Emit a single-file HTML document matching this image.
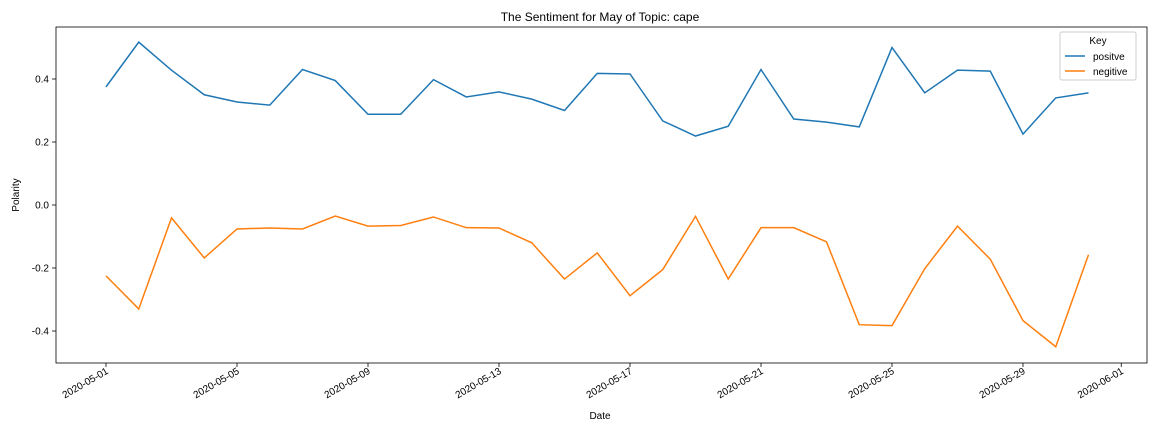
<!DOCTYPE html>
<html><head><meta charset="utf-8"><style>
body{margin:0;background:#fff;font-family:"Liberation Sans","DejaVu Sans",sans-serif;}
svg text{font-family:"Liberation Sans","DejaVu Sans",sans-serif;}
</style></head><body>
<svg id="chart" width="1152" height="432" xmlns="http://www.w3.org/2000/svg">
<rect width="1152" height="432" fill="#fff"/>
<text x="600" y="21" font-size="12" text-anchor="middle">The Sentiment for May of Topic: cape</text>
<g id="ticks"></g>
<g id="lines"></g>
<rect x="56" y="27" width="1091" height="336" fill="none" stroke="#000" stroke-width="0.8"/>
<text x="600" y="419" font-size="10" text-anchor="middle">Date</text>
<text x="19" y="195" font-size="10" text-anchor="middle" transform="rotate(-90 19 195)">Polarity</text>
<g>
<rect x="1060" y="32" width="76" height="48" fill="#fff" stroke="#ccc" rx="2"/>
<text x="1098" y="44" font-size="10" text-anchor="middle">Key</text>
<g><line x1="1065" y1="56" x2="1085" y2="56" stroke="#1f77b4" stroke-width="1.5"/><text x="1093" y="60" font-size="10">positve</text></g>
<g><line x1="1065" y1="71" x2="1085" y2="71" stroke="#ff7f0e" stroke-width="1.5"/><text x="1093" y="75" font-size="10">negitive</text></g>
</g>
</svg>
<script>
const days=[1,2,3,4,5,6,7,8,9,10,11,12,13,14,15,16,17,18,19,20,21,22,23,24,25,26,27,28,29,30,31];
const positive=[0.375,0.517,0.428,0.35,0.327,0.317,0.43,0.395,0.288,0.288,0.398,0.343,0.359,0.336,0.30,0.418,0.416,0.267,0.219,0.25,0.43,0.273,0.263,0.248,0.5,0.356,0.428,0.425,0.225,0.34,0.356];
const negative=[-0.225,-0.33,-0.041,-0.168,-0.076,-0.073,-0.076,-0.035,-0.067,-0.065,-0.038,-0.072,-0.073,-0.12,-0.235,-0.152,-0.288,-0.205,-0.036,-0.235,-0.072,-0.072,-0.117,-0.38,-0.383,-0.202,-0.067,-0.172,-0.367,-0.45,-0.158];
const yTicks=[-0.4,-0.2,0.0,0.2,0.4];
const xTickDays=[1,5,9,13,17,21,25,29,32];
const xTickLabels=["2020-05-01","2020-05-05","2020-05-09","2020-05-13","2020-05-17","2020-05-21","2020-05-25","2020-05-29","2020-06-01"];
const NS="http://www.w3.org/2000/svg";
function xs(d){return 106+(d-1)*32.75;}
function ys(v){return 205-v*315;}
const tg=document.getElementById('ticks'),lg=document.getElementById('lines');
function mk(tag,attrs,parent){const e=document.createElementNS(NS,tag);for(const k in attrs)e.setAttribute(k,attrs[k]);parent.appendChild(e);return e;}
yTicks.forEach(v=>{
  const y=ys(v);
  const l=mk('line',{x1:52,x2:56,y1:y,y2:y,stroke:'#000','stroke-width':0.8},tg);
  
  
  const t=mk('text',{x:49,y:y+3.5,'font-size':10,'text-anchor':'end'},tg);
  
  
  t.textContent=v.toFixed(1);
});
xTickDays.forEach((d,i)=>{
  const x=xs(d);
  const l=mk('line',{x1:x,x2:x,y1:363,y2:367,stroke:'#000','stroke-width':0.8},tg);
  
  
  const t=mk('text',{x:x+3,y:373,'font-size':10,'text-anchor':'end',transform:`rotate(-30 ${x+3} 373)`},tg);
  
  
  t.textContent=xTickLabels[i];
});
function series(vals,color,name){
  const p=mk('polyline',{points:vals.map((v,i)=>xs(days[i])+','+ys(v)).join(' '),fill:'none',stroke:color,'stroke-width':1.5},lg);
  
  
}
series(positive,'#1f77b4','positive-line');
series(negative,'#ff7f0e','negative-line');
</script>
</body></html>
